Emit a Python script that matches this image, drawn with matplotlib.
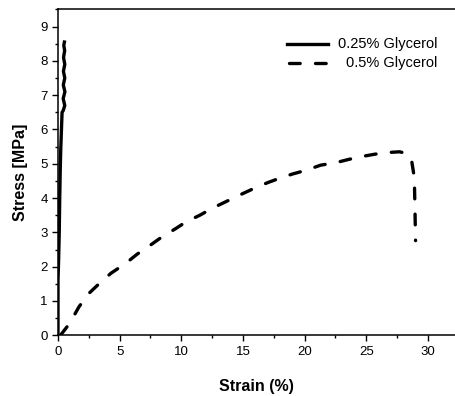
import numpy as np
import matplotlib
matplotlib.use("Agg")
import matplotlib.pyplot as plt
from matplotlib.ticker import MultipleLocator

plt.rcParams['font.family'] = ['Liberation Sans', 'DejaVu Sans']

# 0.25% glycerol - near vertical, noisy trace
strain_025 = [0.0, 0.0, 0.05, 0.1, 0.14, 0.18, 0.22, 0.28, 0.33,
              0.42, 0.55, 0.42, 0.56, 0.43, 0.55, 0.44, 0.55, 0.45, 0.54, 0.47, 0.52]
stress_025 = [0.0, 1.6, 2.2, 3.0, 4.0, 4.8, 5.4, 6.0, 6.5,
              6.55, 6.7, 6.9, 7.1, 7.3, 7.5, 7.7, 7.9, 8.1, 8.3, 8.45, 8.55]

# 0.5% glycerol
strain_05 = [0.2, 0.95, 1.7, 2.5, 3.5, 4.3, 5.5, 6.4, 7.5, 8.4, 9.5, 10.4, 11.5, 12.6, 13.7,
             14.8, 16.0, 17.0, 17.9, 19.0, 20.2, 21.3, 22.5, 23.6, 24.6, 25.7, 26.8, 27.7,
             28.3, 28.7, 28.9, 28.95, 29.0]
stress_05 = [0.0, 0.35, 0.83, 1.22, 1.56, 1.81, 2.1, 2.36, 2.63, 2.86, 3.1, 3.31, 3.5, 3.72, 3.91,
             4.1, 4.3, 4.45, 4.57, 4.7, 4.82, 4.96, 5.03, 5.13, 5.21, 5.28, 5.33, 5.35,
             5.3, 5.05, 4.6, 3.75, 2.76]

labels = ['0.25% Glycerol', '0.5% Glycerol']

dash = (3.2, 4.6)

fig = plt.figure(figsize=(4.55, 3.96), dpi=100)
ax = fig.add_axes([58 / 455, 0.1533, 1 - 58 / 455, 0.977 - 0.1533])

ax.plot(strain_025, stress_025, color='black', lw=2.4, solid_joinstyle='round')
ax.plot(strain_05, stress_05, color='black', lw=2.4, dashes=dash, dash_capstyle='round')

ax.set_xlim(0, 32.2)
ax.set_ylim(0, 9.51)
ax.xaxis.set_major_locator(MultipleLocator(5))
ax.xaxis.set_minor_locator(MultipleLocator(2.5))
ax.yaxis.set_major_locator(MultipleLocator(1))
ax.yaxis.set_minor_locator(MultipleLocator(0.5))
ax.tick_params(which='major', direction='out', length=4, width=1, labelsize=9.5)
ax.tick_params(which='minor', direction='out', length=2.5, width=1)
ax.tick_params(top=False, right=False)
ax.spines['right'].set_visible(False)
for s in ['left', 'bottom', 'top']:
    ax.spines[s].set_linewidth(1.1)

ax.set_xlabel('Strain (%)', fontsize=11.5, fontweight='bold', labelpad=15)
ax.set_ylabel('Stress [MPa]', fontsize=11.5, fontweight='bold', labelpad=9)

# legend: handles left, labels right aligned
t = ax.transAxes
def ax_x(px):
    return (px - 58) / (455 - 58)
def ax_y(py):
    return (335.3 - py) / (335.3 - 9)
ax.plot([ax_x(287), ax_x(328)], [ax_y(43.5)] * 2, transform=t, color='black', lw=2.4)
ax.plot([ax_x(289), ax_x(326)], [ax_y(62.5)] * 2, transform=t, color='black', lw=2.4,
        dashes=dash, dash_capstyle='round')
ax.text(ax_x(437), ax_y(43.5), labels[0], transform=t, ha='right', va='center', fontsize=10.5)
ax.text(ax_x(437), ax_y(62.5), labels[1], transform=t, ha='right', va='center', fontsize=10.5)

fig.savefig('out.png', dpi=100)
